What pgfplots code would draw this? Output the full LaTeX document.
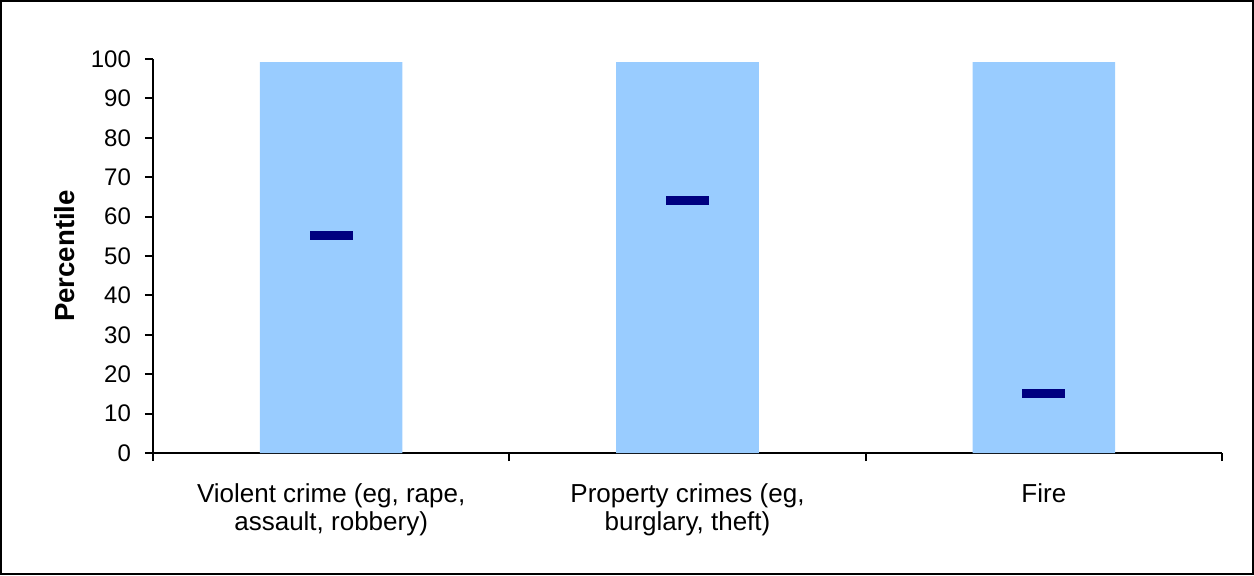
\documentclass[border=0pt]{standalone}
\usepackage{pgfplots}
\pgfplotsset{compat=1.18}
\usepackage{fontspec}
\setmainfont{Liberation Sans}
\definecolor{barblue}{HTML}{99CCFF}
\definecolor{navy}{HTML}{000080}
\pgfdeclareplotmark{dash}{%
  \pgfpathrectangle{\pgfpoint{-10.75pt}{-2.25pt}}{\pgfpoint{21.5pt}{4.5pt}}%
  \pgfusepathqfill}
\begin{document}
\begin{tikzpicture}
\useasboundingbox (-76.5pt,-61pt) rectangle (550.5pt,226.5pt);
\draw[line width=1pt] (-76pt,-60.5pt) rectangle (550pt,226pt);
\begin{axis}[
  at={(0,0)}, anchor=south west,
  scale only axis, width=534.5pt, height=197pt,
  xmin=0, xmax=3, ymin=0, ymax=100,
  axis x line=bottom, axis y line=left,
  axis line style={line width=1pt, -},
  every tick/.style={black, line width=1pt},
  tick align=outside,
  ytick={0,10,...,100},
  major tick length=4pt,
  xtick={0,1,2,3},
  xticklabels={},
  extra x ticks={0.5,1.5,2.5},
  extra x tick labels={{Violent crime (eg, rape,\\assault, robbery)},{Property crimes (eg,\\burglary, theft)},{Fire}},
  extra x tick style={major tick length=0pt, xticklabel style={align=center, font=\fontsize{13}{14}\selectfont, yshift=-12pt}},
  yticklabel style={font=\fontsize{12}{14}\selectfont, xshift=-3.5pt},
  /pgf/number format/assume math mode=true,
  ylabel={\textbf{Percentile}},
  ylabel style={font=\fontsize{13.8}{14}\selectfont, at={(axis description cs:-0.0823,0.5)}, anchor=center},
  clip=false,
]
\addplot[ybar, bar width=0.4, fill=barblue, draw=none] coordinates {(0.5,99.2) (1.5,99.2) (2.5,99.2)};
\addplot[only marks, mark=dash, color=navy] coordinates {(0.5,55.1) (1.5,64.1) (2.5,15.0)};
\end{axis}
\end{tikzpicture}
\end{document}
